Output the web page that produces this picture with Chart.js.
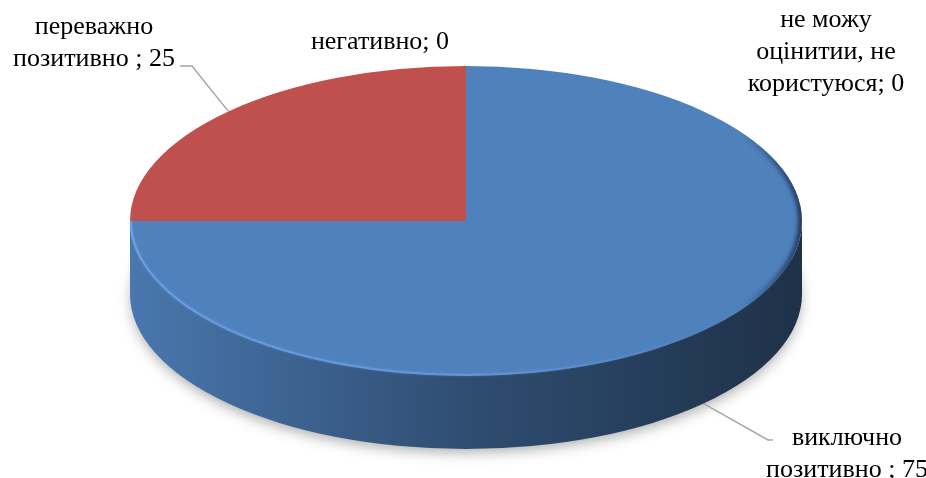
<!DOCTYPE html>
<html>
<head>
<meta charset="utf-8">
<script src="https://cdn.jsdelivr.net/npm/chart.js@4.4.0/dist/chart.umd.min.js"></script>
<style>
html, body { margin: 0; padding: 0; background: #fff; }
</style>
</head>
<body>
<canvas id="pieChart" width="926" height="478"></canvas>
<script>
// Data
const categories = ['виключно\nпозитивно ', 'переважно\nпозитивно ', 'негативно', 'не можу\nоцінитии, не\nкористуюся'];
const values = [75, 25, 0, 0];
const colors = ['#4F81BD', '#C0504D', '#9BBB59', '#8064A2'];

// 3D look
const disc = { cx: 466, cy: 221, rx: 336, ry: 155, depth: 73 };
const labelPos = [
    { x: 847, y: 438, leader: [[773, 440], [768, 440]] },
    { x: 94, y: 27, leader: [[180, 66], [192, 66]] },
    { x: 380, y: 42 },
    { x: 826, y: 20 }
];
const lineHeight = 32;

function shade(hex, f) {
    const n = parseInt(hex.slice(1), 16);
    const r = Math.round(((n >> 16) & 255) * f);
    const g = Math.round(((n >> 8) & 255) * f);
    const b = Math.round((n & 255) * f);
    return `rgb(${r},${g},${b})`;
}

function frontRanges(s, e) {
    const out = [];
    for (let k = -1; k <= 1; k++) {
        const lo = Math.max(s, k * 2 * Math.PI);
        const hi = Math.min(e, k * 2 * Math.PI + Math.PI);
        if (hi > lo) out.push([lo, hi]);
    }
    return out;
}

const pie3d = {
    id: 'pie3d',
    beforeDatasetsDraw(chart) {
        const ctx = chart.ctx;
        const arcs = chart.getDatasetMeta(0).data;
        const p = arcs[0];
        const { cx, cy, rx, ry, depth } = disc;

        // soft shadow under the disc
        ctx.save();
        ctx.shadowColor = 'rgba(0,0,0,0.35)';
        ctx.shadowBlur = 14;
        ctx.shadowOffsetY = 5;
        ctx.beginPath();
        ctx.ellipse(cx, cy + depth, rx - 2, ry - 2, 0, 0, 2 * Math.PI);
        ctx.fillStyle = '#555';
        ctx.fill();
        ctx.restore();

        // side walls
        arcs.forEach((a, i) => {
            frontRanges(a.startAngle, a.endAngle).forEach(([lo, hi]) => {
                const grad = ctx.createLinearGradient(cx - rx, 0, cx + rx, 0);
                grad.addColorStop(0, shade(colors[i], 0.92));
                grad.addColorStop(0.5, shade(colors[i], 0.6));
                grad.addColorStop(1, shade(colors[i], 0.38));
                ctx.beginPath();
                ctx.ellipse(cx, cy, rx, ry, 0, lo, hi, false);
                ctx.ellipse(cx, cy + depth, rx, ry, 0, hi, lo, true);
                ctx.closePath();
                ctx.fillStyle = grad;
                ctx.fill();
            });
        });

        // squash the top face into an ellipse
        ctx.save();
        ctx.translate(cx, cy);
        ctx.scale(rx / p.outerRadius, ry / p.outerRadius);
        ctx.translate(-p.x, -p.y);
    },
    afterDatasetsDraw(chart) {
        const ctx = chart.ctx;
        ctx.restore();
        const arcs = chart.getDatasetMeta(0).data;
        const { cx, cy, rx, ry, depth } = disc;

        // dark bevel on the right of the top face
        ctx.save();
        ctx.beginPath();
        ctx.ellipse(cx, cy, rx, ry, 0, 0, 2 * Math.PI);
        ctx.clip();
        const dk = ctx.createLinearGradient(cx + rx - 60, 0, cx + rx, 0);
        dk.addColorStop(0, 'rgba(20,35,60,0)');
        dk.addColorStop(1, 'rgba(20,35,60,0.9)');
        ctx.strokeStyle = dk;
        ctx.lineWidth = 5;
        ctx.filter = 'blur(2px)';
        ctx.beginPath();
        ctx.ellipse(cx, cy, rx - 1, ry - 1, 0, -Math.PI / 3, Math.PI / 3);
        ctx.stroke();
        ctx.restore();

        // bevel highlight on the front rim
        ctx.save();
        const hl = ctx.createLinearGradient(cx - rx, 0, cx + rx, 0);
        hl.addColorStop(0, 'rgba(110,165,235,0.8)');
        hl.addColorStop(0.5, 'rgba(110,165,235,0.5)');
        hl.addColorStop(0.85, 'rgba(110,165,235,0)');
        ctx.strokeStyle = hl;
        ctx.lineWidth = 2;
        ctx.shadowColor = 'rgba(110,165,235,0.6)';
        ctx.shadowBlur = 3;
        ctx.beginPath();
        ctx.ellipse(cx, cy, rx - 1, ry - 1, 0, 0, Math.PI);
        ctx.stroke();
        ctx.restore();

        // data labels with leader lines
        ctx.save();
        ctx.font = '26px "Liberation Serif"';
        ctx.fillStyle = '#000';
        ctx.textAlign = 'center';
        ctx.textBaseline = 'middle';
        arcs.forEach((a, i) => {
            const pos = labelPos[i];
            const lines = (categories[i] + '; ' + values[i]).split('\n');
            lines.forEach((t, j) => ctx.fillText(t, pos.x, pos.y + j * lineHeight));
            if (pos.leader && values[i] > 0) {
                const m = (a.startAngle + a.endAngle) / 2;
                let ex = cx + rx * Math.cos(m);
                let ey = cy + ry * Math.sin(m);
                if (Math.sin(m) > 0) ey += depth;
                ctx.strokeStyle = '#a6a6a6';
                ctx.lineWidth = 1.5;
                ctx.beginPath();
                ctx.moveTo(pos.leader[0][0], pos.leader[0][1]);
                ctx.lineTo(pos.leader[1][0], pos.leader[1][1]);
                ctx.lineTo(ex, ey);
                ctx.stroke();
            }
        });
        ctx.restore();
    }
};

new Chart(document.getElementById('pieChart'), {
    type: 'pie',
    data: {
        labels: categories,
        datasets: [{
            data: values,
            backgroundColor: colors,
            borderWidth: 0
        }]
    },
    options: {
        responsive: false,
        animation: false,
        layout: { padding: 0 },
        plugins: {
            legend: { display: false },
            tooltip: { enabled: false }
        }
    },
    plugins: [pie3d]
});
</script>
</body>
</html>
